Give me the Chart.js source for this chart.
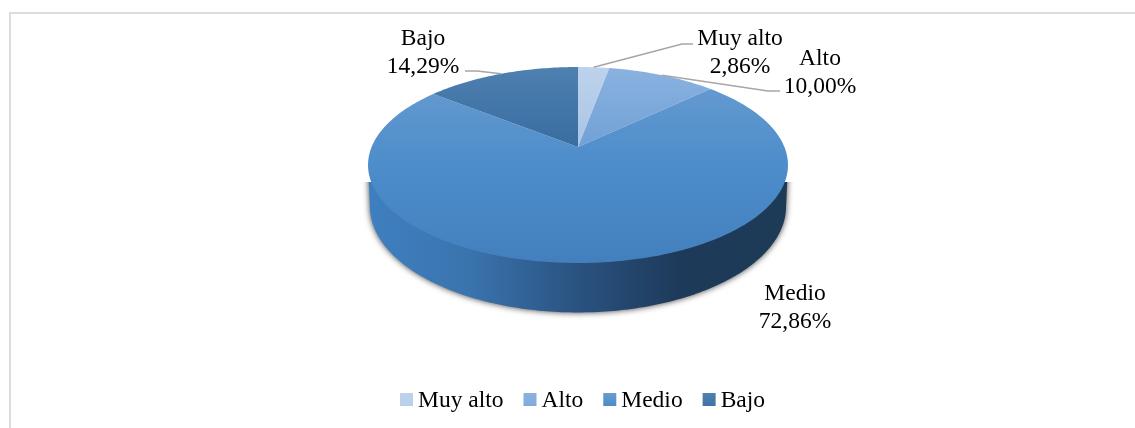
<!DOCTYPE html>
<html>
<head>
<meta charset="utf-8">
<style>
html, body { margin: 0; padding: 0; background: #fff; overflow: hidden; }
#wrap { position: absolute; left: 0; top: 0; width: 1135px; height: 428px; }
canvas { display: block; }
</style>
<script src="https://cdn.jsdelivr.net/npm/chart.js@4/dist/chart.umd.min.js"></script>
</head>
<body>
<div id="wrap"><canvas id="pie3d" width="1135" height="428"></canvas></div>
<script>
const categories = ["Muy alto", "Alto", "Medio", "Bajo"];
const percentValues = [2.86, 10.00, 72.86, 14.29];
const percentLabels = ["2,86%", "10,00%", "72,86%", "14,29%"];

// vertical shading of each slice: top colour, bottom colour
const sliceTop = ["#bdd2ec", "#8ab2e0", "#6a9cd0", "#4e80b0"];
const sliceBottom = ["#a9c3e4", "#6e9fd4", "#437fbd", "#366b9f"];
const swatchColors = ["#b9cfea", "#7fabdc", "#4c8bca", "#3f74a8"];

// where the labels sit: [centre x, first baseline], leader elbow and end
const labelPlaces = [[740, 45], [820, 65], [795, 300], [423, 45]];
const leaderPoints = [[[682, 44], [693, 44]], [[768, 91], [780, 91]], null, [[477, 71], [465, 71]]];

const FONT = "23.5px 'Liberation Serif'";
const LINE = 28;

// disc seen in perspective: centre 578,147 on the page, lower rim has its own ellipse
const persp = { x: 578, y: 147, a: 206.4, b: 94.7, k: 0.1837 };
const rim = { x: 578, y: 187, a: 204.5, b: 102.4, k: 0.1837 };

function projeter(angle, d) {
    // angle as chart.js gives it, -PI/2 is the top of the pie
    const u = Math.cos(angle), v = Math.sin(angle);
    const w = 1 - d.k * v;
    return [d.x + d.a * u / w, d.y + d.b * v / w];
}

function tracerTranche(ctx, debut, fin) {
    ctx.beginPath();
    ctx.moveTo(persp.x, persp.y);
    const pas = Math.max(4, Math.ceil((fin - debut) * 60));
    for (let i = 0; i <= pas; i++) {
        const p = projeter(debut + (fin - debut) * i / pas, persp);
        ctx.lineTo(p[0], p[1]);
    }
    ctx.closePath();
}

const pie3d = {
    id: "pie3d",
    beforeDatasetDraw(chart) {
        const ctx = chart.ctx;
        const arcs = chart.getDatasetMeta(0).data;

        // frame
        ctx.save();
        ctx.strokeStyle = "#dcdcdc";
        ctx.lineWidth = 2;
        ctx.beginPath();
        ctx.moveTo(10, 428);
        ctx.lineTo(10, 13);
        ctx.lineTo(1135, 13);
        ctx.stroke();
        ctx.restore();

        // side wall with its soft shadow, one path so the shadow stays outside
        ctx.save();
        ctx.beginPath();
        ctx.rect(0, 182, 1135, 246);
        ctx.clip();
        const mur = ctx.createLinearGradient(368, 0, 788, 0);
        mur.addColorStop(0, "#3f7fc0");
        mur.addColorStop(0.24, "#3a74ae");
        mur.addColorStop(0.5, "#2a5280");
        mur.addColorStop(0.74, "#1e3a5a");
        mur.addColorStop(1, "#1d3a56");
        ctx.shadowColor = "rgba(40,40,40,0.9)";
        ctx.shadowBlur = 6;
        ctx.fillStyle = mur;
        const bord = Math.asin(persp.k);
        ctx.beginPath();
        for (let i = 0; i <= 180; i++) {
            const p = projeter(bord + (Math.PI - 2 * bord) * i / 180, rim);
            if (i == 0) ctx.moveTo(p[0], p[1]); else ctx.lineTo(p[0], p[1]);
        }
        for (let i = 0; i <= 180; i++) {
            const p = projeter(Math.PI - bord + (Math.PI + 2 * bord) * i / 180, persp);
            ctx.lineTo(p[0], p[1]);
        }
        ctx.closePath();
        ctx.fill();
        ctx.restore();

        // top of the pie, slice angles come from the library
        arcs.forEach((arc, i) => {
            const grad = ctx.createLinearGradient(0, 67, 0, 263);
            grad.addColorStop(0, sliceTop[i]);
            grad.addColorStop(i == 2 ? 0.5 : 0.45, i == 2 ? "#4d8dcb" : sliceBottom[i]);
            grad.addColorStop(1, sliceBottom[i]);
            ctx.fillStyle = grad;
            tracerTranche(ctx, arc.startAngle, arc.endAngle);
            ctx.fill();
        });

        // leaders
        ctx.save();
        ctx.strokeStyle = "#a6a6a6";
        ctx.lineWidth = 1.5;
        arcs.forEach((arc, i) => {
            if (!leaderPoints[i]) return;
            const bout = projeter((arc.startAngle + arc.endAngle) / 2, persp);
            ctx.beginPath();
            ctx.moveTo(bout[0], bout[1]);
            leaderPoints[i].forEach((p) => ctx.lineTo(p[0], p[1]));
            ctx.stroke();
        });
        ctx.restore();

        // labels
        ctx.save();
        ctx.font = FONT;
        ctx.fillStyle = "#000";
        ctx.textAlign = "center";
        ctx.textBaseline = "alphabetic";
        categories.forEach((nom, i) => {
            ctx.fillText(nom, labelPlaces[i][0], labelPlaces[i][1]);
            ctx.fillText(percentLabels[i], labelPlaces[i][0], labelPlaces[i][1] + LINE);
        });
        ctx.restore();

        // legend
        ctx.save();
        ctx.font = FONT;
        ctx.textBaseline = "alphabetic";
        const largeurs = categories.map((nom) => ctx.measureText(nom).width);
        const total = largeurs.reduce((a, b) => a + b, 0) + categories.length * 18 + (categories.length - 1) * 20;
        let x = 582.5 - total / 2;
        categories.forEach((nom, i) => {
            const grad = ctx.createLinearGradient(0, 393, 0, 406);
            grad.addColorStop(0, sliceTop[i]);
            grad.addColorStop(1, swatchColors[i]);
            ctx.fillStyle = grad;
            ctx.fillRect(x, 393, 13, 13);
            ctx.fillStyle = "#000";
            ctx.fillText(nom, x + 18, 407);
            x += 18 + largeurs[i] + 20;
        });
        ctx.restore();

        return false;
    }
};

new Chart(document.getElementById("pie3d"), {
    type: "pie",
    data: {
        labels: categories,
        datasets: [{
            data: percentValues,
            backgroundColor: swatchColors,
            borderWidth: 0
        }]
    },
    options: {
        responsive: false,
        animation: false,
        plugins: {
            legend: { display: false },
            tooltip: { enabled: false }
        }
    },
    plugins: [pie3d]
});
</script>
</body>
</html>
